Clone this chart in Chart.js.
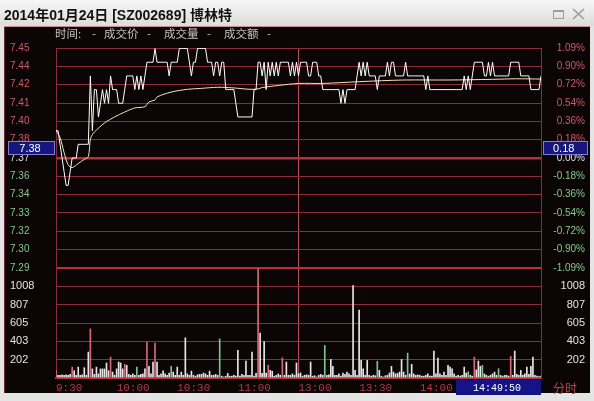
<!DOCTYPE html>
<html>
<head>
<meta charset="utf-8">
<script src="https://cdn.jsdelivr.net/npm/chart.js@4.4.1/dist/chart.umd.min.js"></script>
<style>
html, body { margin: 0; padding: 0; background: #e2e2e2; }
#wrap { position: relative; width: 594px; height: 401px; }
canvas { display: block; }
</style>
</head>
<body>
<div id="wrap"><canvas id="c" width="594" height="401"></canvas></div>
<script>
// minute prices 9:30 .. 15:00 (241 minutes, lunch break skipped)
const price = [
  7.39, 7.39, 7.38, 7.37, 7.36, 7.35, 7.35, 7.36, 7.37, 7.37,
  7.37, 7.38, 7.38, 7.38, 7.38, 7.38, 7.38, 7.43, 7.39, 7.42,
  7.42, 7.40, 7.41, 7.42, 7.41, 7.42, 7.41, 7.43, 7.42, 7.42,
  7.42, 7.41, 7.41, 7.41, 7.42, 7.43, 7.43, 7.43, 7.43, 7.42,
  7.43, 7.42, 7.43, 7.42, 7.43, 7.44, 7.44, 7.44, 7.44, 7.45,
  7.44, 7.44, 7.44, 7.44, 7.44, 7.44, 7.43, 7.44, 7.44, 7.44,
  7.44, 7.45, 7.45, 7.45, 7.45, 7.45, 7.44, 7.43, 7.44, 7.44,
  7.45, 7.45, 7.45, 7.45, 7.45, 7.44, 7.44, 7.44, 7.43, 7.44,
  7.44, 7.43, 7.44, 7.44, 7.42, 7.42, 7.42, 7.42, 7.42, 7.41,
  7.40, 7.40, 7.40, 7.40, 7.40, 7.40, 7.40, 7.40, 7.42, 7.42,
  7.44, 7.44, 7.43, 7.44, 7.42, 7.44, 7.43, 7.44, 7.43, 7.44,
  7.43, 7.44, 7.44, 7.44, 7.44, 7.44, 7.43, 7.44, 7.43, 7.44,
  7.43, 7.44, 7.44, 7.44, 7.44, 7.43, 7.43, 7.44, 7.44, 7.44,
  7.43, 7.43, 7.42, 7.42, 7.42, 7.42, 7.42, 7.42, 7.42, 7.42,
  7.42, 7.41, 7.42, 7.41, 7.42, 7.42, 7.42, 7.42, 7.42, 7.43,
  7.44, 7.43, 7.44, 7.43, 7.44, 7.43, 7.43, 7.43, 7.43, 7.42,
  7.43, 7.43, 7.43, 7.43, 7.44, 7.43, 7.44, 7.44, 7.43, 7.43,
  7.43, 7.43, 7.43, 7.44, 7.43, 7.43, 7.43, 7.43, 7.43, 7.43,
  7.43, 7.43, 7.43, 7.42, 7.43, 7.42, 7.42, 7.42, 7.42, 7.42,
  7.42, 7.42, 7.42, 7.42, 7.42, 7.42, 7.42, 7.42, 7.42, 7.42,
  7.42, 7.42, 7.43, 7.42, 7.43, 7.42, 7.43, 7.44, 7.44, 7.44,
  7.44, 7.44, 7.43, 7.43, 7.44, 7.43, 7.44, 7.43, 7.43, 7.43,
  7.43, 7.43, 7.43, 7.43, 7.43, 7.44, 7.44, 7.44, 7.44, 7.44,
  7.43, 7.43, 7.43, 7.43, 7.43, 7.42, 7.42, 7.42, 7.42, 7.42,
  7.43
];

// average price line, read at a few minutes
const avgMinute = [0, 2, 4, 6, 8, 11, 14, 16, 17, 18, 19, 24, 29, 34, 39, 44, 46, 49, 50, 57, 65, 72, 80, 88, 96, 100, 102, 110, 120, 132, 150, 172, 194, 216, 228, 240];
const avgPrice = [7.390, 7.385, 7.374, 7.365, 7.363, 7.366, 7.369, 7.371, 7.384, 7.387, 7.389, 7.3956, 7.400, 7.4036, 7.4066, 7.4075, 7.411, 7.4124, 7.4146, 7.4182, 7.4202, 7.4209, 7.4217, 7.4212, 7.4202, 7.4205, 7.4215, 7.423, 7.4245, 7.4245, 7.4258, 7.427, 7.427, 7.4275, 7.4279, 7.4277];

// minute volume
const volume = [
  84, 30, 29, 35, 30, 35, 30, 40, 120, 80,
  30, 120, 30, 35, 113, 30, 285, 540, 100, 40,
  120, 45, 100, 100, 100, 165, 80, 230, 65, 30,
  100, 175, 165, 100, 150, 140, 40, 30, 45, 30,
  120, 30, 40, 45, 100, 394, 128, 45, 175, 383,
  175, 30, 45, 80, 45, 30, 55, 128, 65, 30,
  120, 30, 65, 30, 442, 45, 30, 75, 30, 20,
  35, 40, 40, 55, 45, 30, 75, 30, 30, 40,
  30, 430, 20, 10, 20, 50, 20, 20, 30, 20,
  303, 20, 40, 30, 186, 30, 30, 285, 20, 50,
  1200, 493, 50, 400, 55, 140, 84, 75, 20, 30,
  45, 30, 222, 30, 175, 30, 30, 45, 30, 165,
  45, 55, 20, 30, 35, 30, 175, 20, 25, 10,
  30, 40, 30, 358, 30, 35, 204, 128, 30, 30,
  45, 20, 55, 40, 65, 45, 30, 1015, 84, 30,
  748, 193, 100, 30, 193, 30, 20, 30, 25, 183,
  84, 20, 10, 25, 30, 55, 128, 65, 45, 50,
  65, 204, 65, 30, 274, 45, 150, 45, 30, 35,
  30, 20, 20, 30, 45, 20, 20, 296, 45, 219,
  45, 30, 65, 30, 139, 120, 102, 45, 20, 30,
  20, 30, 120, 55, 70, 30, 20, 230, 90, 186,
  128, 139, 45, 30, 20, 30, 45, 65, 30, 102,
  30, 20, 30, 30, 20, 237, 30, 296, 40, 30,
  84, 30, 45, 120, 40, 128, 230, 30, 20, 15,
  20
];
const upBars = [0, 8, 17, 27, 34, 45, 49, 100, 105, 112, 207, 225];
const downBars = [40, 57, 81, 133, 159, 174, 204, 211, 219];

// axis labels
const prevClose = 7.37;
const priceMin = 7.2896, priceMax = 7.4504;
const priceLabels = ['7.29', '7.30', '7.32', '7.33', '7.34', '7.36', '7.37', '7.38', '7.40', '7.41', '7.42', '7.44', '7.45'];
const pctLabels = ['-1.09%', '-0.90%', '-0.72%', '-0.54%', '-0.36%', '-0.18%', '0.00%', '0.18%', '0.36%', '0.54%', '0.72%', '0.90%', '1.09%'];
const volMax = 1209.6;
const volLabels = ['', '202', '403', '605', '807', '1008', ''];
const timeTicks = [0, 30, 60, 90, 120, 150, 180];
const timeLabels = ['9:30', '10:00', '10:30', '11:00', '13:00', '13:30', '14:00'];

const dimLine = '#8c2c37';
const brightLine = '#b5303b';
const midLine = '#b4505e';
const redText = '#cf5a66';
const greenText = '#86c98a';

const minutes = price.map((_, i) => i);

function sideColor(ctx) {
  if (ctx.index < 6) return greenText;
  if (ctx.index > 6) return redText;
  return '#e0e0e0';
}

function evenTicks(scale, n, lo, hi) {
  const out = [];
  for (let k = 0; k < n; k++) out.push({ value: lo + k * (hi - lo) / (n - 1) });
  scale.ticks = out;
}

const framePlugin = {
  id: 'frame',
  beforeDraw(chart) {
    const g = chart.ctx;
    g.save();
    g.fillStyle = '#e4e4e4';
    g.fillRect(0, 0, 594, 401);
    const grad = g.createLinearGradient(0, 0, 0, 26);
    grad.addColorStop(0, '#f7f7f7');
    grad.addColorStop(1, '#dcdcdc');
    g.fillStyle = grad;
    g.fillRect(0, 0, 594, 26);
    g.fillStyle = '#111';
    g.font = 'bold 14px "Liberation Sans", "Noto Sans CJK SC", sans-serif';
    g.textBaseline = 'middle';
    g.fillText('2014年01月24日 [SZ002689] 博林特', 4, 16);
    // window buttons
    g.strokeStyle = '#9c9c9c';
    g.lineWidth = 1;
    g.strokeRect(553.5, 10.5, 10, 8);
    g.fillStyle = '#9c9c9c';
    g.fillRect(553, 10, 11, 2);
    g.lineWidth = 1.6;
    g.beginPath();
    g.moveTo(573, 9); g.lineTo(584, 19);
    g.moveTo(584, 9); g.lineTo(573, 19);
    g.stroke();
    // dark panel
    g.fillStyle = '#0b0506';
    g.fillRect(4, 26, 586, 367);
    g.strokeStyle = '#c88a92';
    g.lineWidth = 1;
    g.beginPath(); g.moveTo(4, 26.5); g.lineTo(590, 26.5); g.stroke();
    g.strokeStyle = '#6a2630';
    g.beginPath(); g.moveTo(4.5, 27); g.lineTo(4.5, 393); g.stroke();
    // header
    g.fillStyle = '#c4c4c4';
    g.font = '11.5px "Noto Sans CJK SC", sans-serif';
    const head = [['时间:', 55], ['-', 92], ['成交价', 104], ['-', 147], ['成交量', 164], ['-', 207], ['成交额', 224], ['-', 267]];
    head.forEach(h => g.fillText(h[0], h[1], 34));
    g.restore();
  },
  afterDraw(chart) {
    const g = chart.ctx;
    g.save();
    g.textBaseline = 'middle';
    // cursor value boxes
    g.fillStyle = '#16167e';
    g.strokeStyle = '#8080c8';
    g.lineWidth = 1;
    g.fillRect(8, 141, 47, 14);
    g.strokeRect(8.5, 141.5, 46, 13);
    g.fillRect(543, 141, 45, 14);
    g.strokeRect(543.5, 141.5, 44, 13);
    g.fillStyle = '#ffffff';
    g.font = '11px "Liberation Sans", sans-serif';
    g.textAlign = 'center';
    g.fillText('7.38', 30, 148.5);
    g.textAlign = 'left';
    g.fillText('0.18', 553, 148.5);
    // time box
    g.fillStyle = '#141488';
    g.fillRect(456, 380, 85, 15);
    g.fillStyle = '#ffffff';
    g.font = '10px "Liberation Mono", monospace';
    g.textAlign = 'center';
    g.fillText('14:49:50', 497, 388);
    g.fillStyle = '#b54452';
    g.font = '12px "Noto Sans CJK SC", sans-serif';
    g.textAlign = 'left';
    g.fillText('分时', 553, 388);
    g.restore();
  }
};

const labelFont = { family: 'Liberation Sans', size: 10 };
const volFont = { family: 'Liberation Sans', size: 11 };

new Chart(document.getElementById('c'), {
  type: 'line',
  data: {
    datasets: [
      {
        type: 'line',
        label: '成交价',
        data: minutes.map(i => ({ x: i, y: price[i] })),
        borderColor: '#ffffff',
        borderWidth: 1,
        pointRadius: 0,
        tension: 0,
        yAxisID: 'yPrice'
      },
      {
        type: 'line',
        label: '均价',
        data: avgMinute.map((m, k) => ({ x: m, y: avgPrice[k] })),
        borderColor: '#efe6b4',
        borderWidth: 1,
        pointRadius: 0,
        tension: 0.3,
        yAxisID: 'yPrice'
      },
      {
        type: 'bar',
        label: '成交量',
        data: minutes.map(i => ({ x: i, y: volume[i] })),
        backgroundColor: minutes.map(i => upBars.includes(i) ? '#d86a78' : (downBars.includes(i) ? '#7cc48a' : '#e6e6e6')),
        barThickness: 1,
        grouped: false,
        yAxisID: 'yVol'
      }
    ]
  },
  options: {
    responsive: false,
    animation: false,
    devicePixelRatio: 1,
    layout: { padding: { left: 10, right: 9, top: 48, bottom: 0 } },
    plugins: { legend: { display: false }, tooltip: { enabled: false } },
    scales: {
      x: {
        type: 'linear', min: 0, max: 240, offset: false,
        afterFit: s => { s.height = 23; },
        afterBuildTicks: s => { s.ticks = timeTicks.map(v => ({ value: v })); },
        ticks: {
          align: 'start', padding: 3, maxRotation: 0, autoSkip: false,
          color: '#b03a48', font: { family: 'Liberation Mono', size: 11 },
          callback: (v, i) => timeLabels[i]
        },
        grid: {
          drawTicks: false, offset: false,
          color: c => (c.tick && c.tick.value === 120) ? midLine : 'rgba(0,0,0,0)',
          lineWidth: 1
        },
        border: { color: brightLine, width: 2 }
      },
      yPrice: {
        type: 'linear', position: 'left', stack: 'left', stackWeight: 2, weight: 2,
        min: priceMin, max: priceMax,
        afterFit: s => { s.width = 46; },
        afterBuildTicks: s => evenTicks(s, priceLabels.length, priceMin, priceMax),
        ticks: { crossAlign: 'far', autoSkip: false, color: sideColor, font: labelFont, callback: (v, i) => priceLabels[i] },
        grid: {
          drawTicks: false,
          color: c => (c.index === 6 || c.index === 0) ? brightLine : dimLine,
          lineWidth: c => c.index === 6 ? 2.5 : (c.index === 0 ? 2 : 1)
        },
        border: { color: dimLine, width: 1 }
      },
      yVol: {
        type: 'linear', position: 'left', stack: 'left', stackWeight: 1, weight: 1,
        min: 0, max: volMax,
        afterFit: s => { s.width = 46; },
        afterBuildTicks: s => evenTicks(s, volLabels.length, 0, volMax),
        ticks: { crossAlign: 'far', autoSkip: false, color: '#e4e4e4', font: volFont, callback: (v, i) => volLabels[i] },
        grid: {
          drawTicks: false,
          color: c => (c.index === 0 || c.index === 6) ? brightLine : dimLine,
          lineWidth: c => (c.index === 0 || c.index === 6) ? 2 : 1
        },
        border: { color: dimLine, width: 1 }
      },
      yPct: {
        type: 'linear', position: 'right', stack: 'right', stackWeight: 2, weight: 1,
        min: -1.09, max: 1.09,
        afterFit: s => { s.width = 44; },
        afterBuildTicks: s => evenTicks(s, pctLabels.length, -1.09, 1.09),
        ticks: { crossAlign: 'far', autoSkip: false, color: sideColor, font: labelFont, callback: (v, i) => pctLabels[i] },
        grid: { drawTicks: false, drawOnChartArea: false },
        border: { color: dimLine, width: 1 }
      },
      yVolR: {
        type: 'linear', position: 'right', stack: 'right', stackWeight: 1, weight: 2,
        min: 0, max: volMax,
        afterFit: s => { s.width = 44; },
        afterBuildTicks: s => evenTicks(s, volLabels.length, 0, volMax),
        ticks: { crossAlign: 'far', autoSkip: false, color: '#e4e4e4', font: volFont, callback: (v, i) => volLabels[i] },
        grid: { drawTicks: false, drawOnChartArea: false },
        border: { color: dimLine, width: 1 }
      }
    }
  },
  plugins: [framePlugin]
});
</script>
</body>
</html>
